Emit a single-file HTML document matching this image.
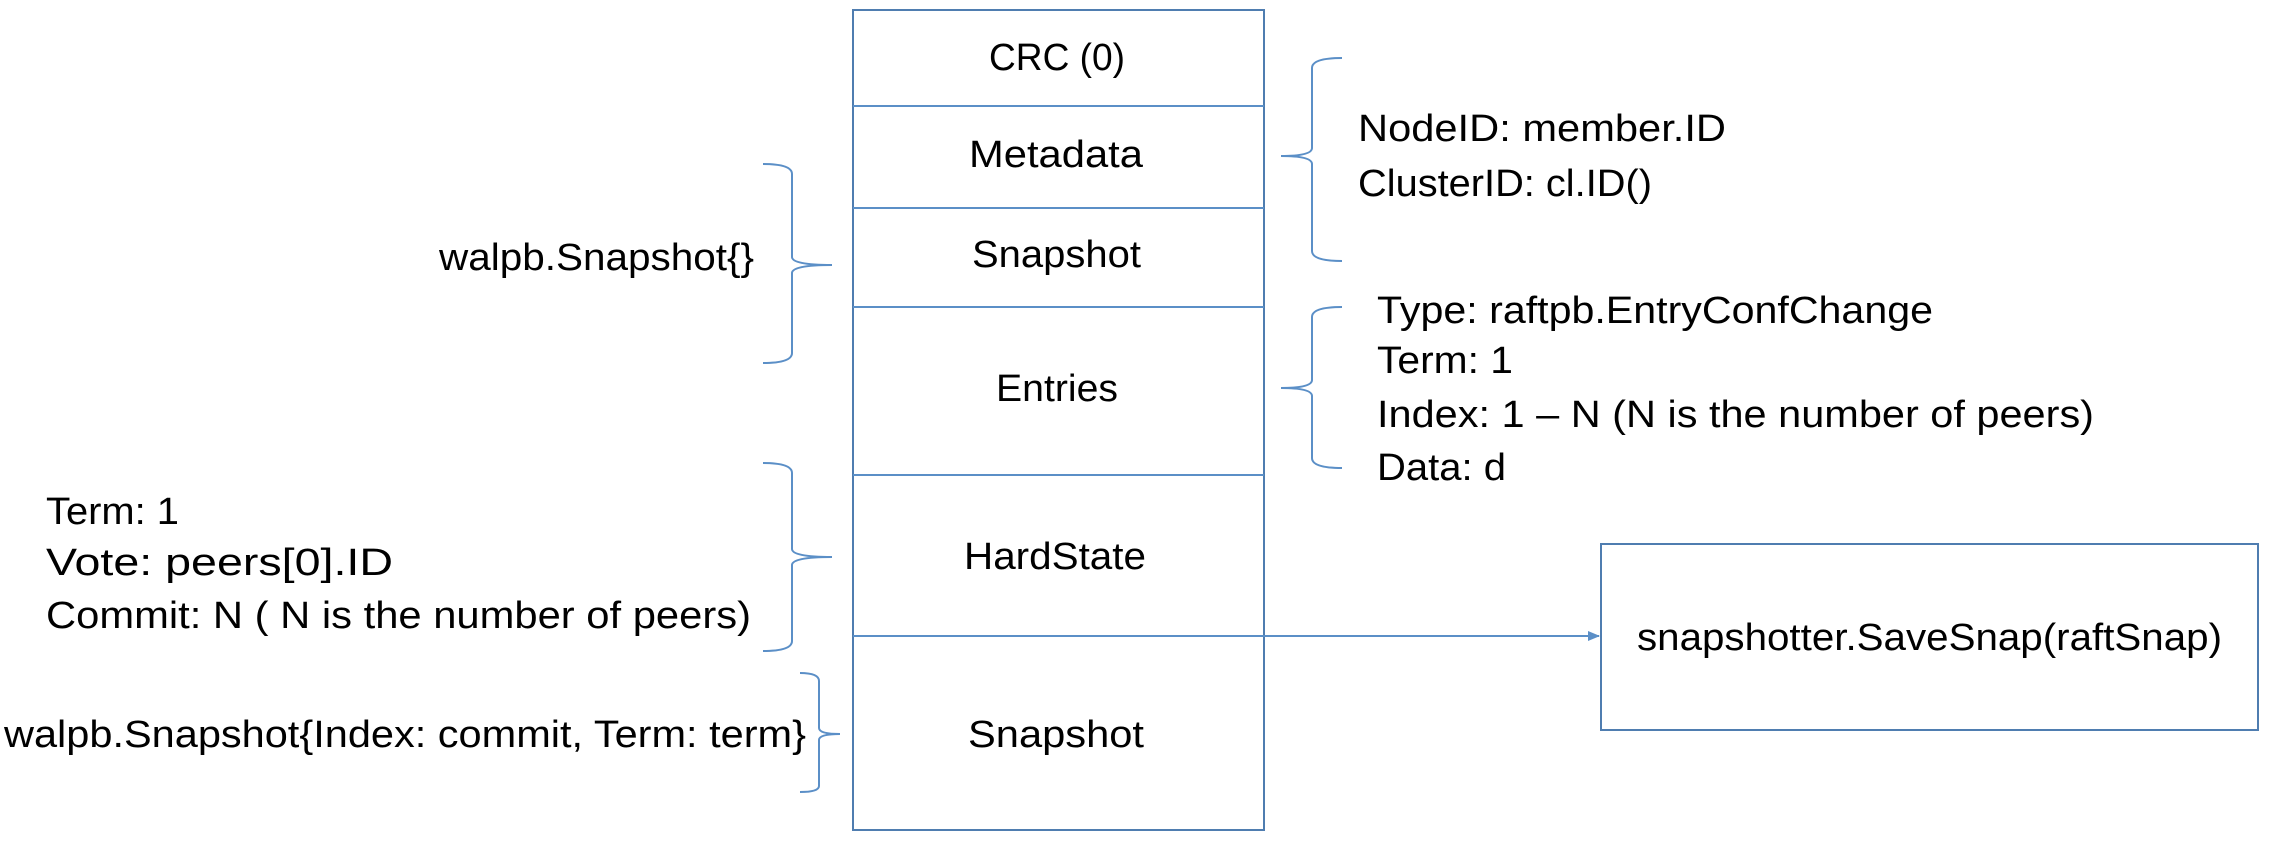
<!DOCTYPE html>
<html><head><meta charset="utf-8"><style>
html,body{margin:0;padding:0;background:#fff;}
svg{display:block;}
text{font-family:"Liberation Sans",Arial,sans-serif;font-size:38px;fill:#000;}
</style></head><body>
<svg width="2270" height="844" viewBox="0 0 2270 844" xmlns="http://www.w3.org/2000/svg">
<defs><marker id="ah" markerWidth="12" markerHeight="10" refX="11" refY="5" orient="auto" markerUnits="userSpaceOnUse"><path d="M0,0 L12,5 L0,10 z" fill="#5b8fc7"/></marker></defs>
<g fill="none" stroke="#5b8fc7" stroke-width="2">
<rect x="853" y="10" width="411" height="820" stroke="#4f7db0"/>
<line x1="853" y1="106" x2="1264" y2="106"/>
<line x1="853" y1="208" x2="1264" y2="208"/>
<line x1="853" y1="307" x2="1264" y2="307"/>
<line x1="853" y1="475" x2="1264" y2="475"/>
<line x1="853" y1="636" x2="1264" y2="636"/>
<line x1="1264" y1="636" x2="1599" y2="636" marker-end="url(#ah)"/>
<rect x="1601" y="544" width="657" height="186" stroke="#4f7db0"/>
<path d="M1342 58 Q1312 58 1312 68 L1312 148 Q1312 156 1281 156 Q1312 156 1312 164 L1312 251 Q1312 261 1342 261"/>
<path d="M1342 307 Q1312 307 1312 317 L1312 380 Q1312 388 1281 388 Q1312 388 1312 396 L1312 458 Q1312 468 1342 468"/>
<path d="M763 164 Q792 164 792 174 L792 257 Q792 265 832 265 Q792 265 792 273 L792 353 Q792 363 763 363"/>
<path d="M763 463 Q792 463 792 473 L792 549 Q792 557 832 557 Q792 557 792 565 L792 641 Q792 651 763 651"/>
<path d="M800 673 Q819 673 819 681 L819 728 Q819 734 840 734 Q819 734 819 740 L819 786 Q819 792 800 792"/>
</g>
<g dominant-baseline="central">
<text x="989" y="58" textLength="136" lengthAdjust="spacingAndGlyphs">CRC (0)</text>
<text x="969" y="155" textLength="174" lengthAdjust="spacingAndGlyphs">Metadata</text>
<text x="972" y="255" textLength="169" lengthAdjust="spacingAndGlyphs">Snapshot</text>
<text x="996" y="389" textLength="122" lengthAdjust="spacingAndGlyphs">Entries</text>
<text x="964" y="557" textLength="182" lengthAdjust="spacingAndGlyphs">HardState</text>
<text x="968" y="735" textLength="176" lengthAdjust="spacingAndGlyphs">Snapshot</text>
<text x="1358" y="129" textLength="368" lengthAdjust="spacingAndGlyphs">NodeID: member.ID</text>
<text x="1358" y="184" textLength="294" lengthAdjust="spacingAndGlyphs">ClusterID: cl.ID()</text>
<text x="1377" y="311" textLength="556" lengthAdjust="spacingAndGlyphs">Type: raftpb.EntryConfChange</text>
<text x="1377" y="361" textLength="136" lengthAdjust="spacingAndGlyphs">Term: 1</text>
<text x="1377" y="415" textLength="717" lengthAdjust="spacingAndGlyphs">Index: 1 – N (N is the number of peers)</text>
<text x="1377" y="468" textLength="129" lengthAdjust="spacingAndGlyphs">Data: d</text>
<text x="439" y="258" textLength="315" lengthAdjust="spacingAndGlyphs">walpb.Snapshot{}</text>
<text x="46" y="512" textLength="133" lengthAdjust="spacingAndGlyphs">Term: 1</text>
<text x="46" y="563" textLength="347" lengthAdjust="spacingAndGlyphs">Vote: peers[0].ID</text>
<text x="46" y="616" textLength="705" lengthAdjust="spacingAndGlyphs">Commit: N ( N is the number of peers)</text>
<text x="4" y="735" textLength="802" lengthAdjust="spacingAndGlyphs">walpb.Snapshot{Index: commit, Term: term}</text>
<text x="1637" y="638" textLength="585" lengthAdjust="spacingAndGlyphs">snapshotter.SaveSnap(raftSnap)</text>
</g>
</svg>
</body></html>
